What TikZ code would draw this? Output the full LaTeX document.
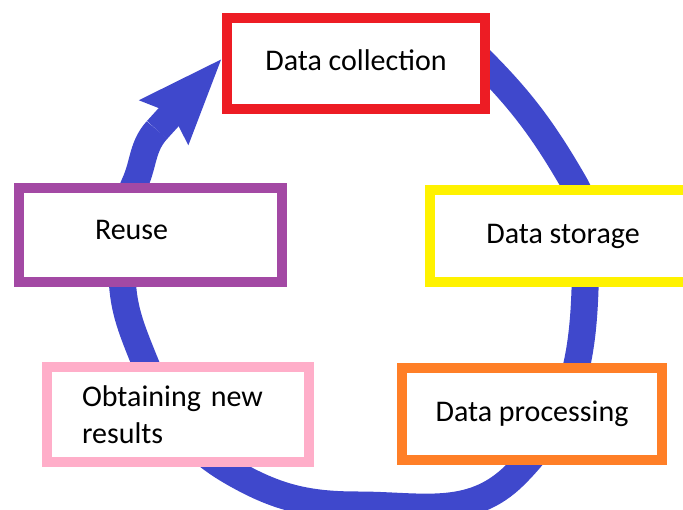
\documentclass[tikz,border=0pt]{standalone}
\usepackage{fontspec}
\setmainfont{Carlito}
\usetikzlibrary{arrows.meta,backgrounds}

\definecolor{ringblue}{HTML}{3F48CC}
\definecolor{stagered}{HTML}{ED1C24}
\definecolor{stageyellow}{HTML}{FFF200}
\definecolor{stageorange}{HTML}{FF7F27}
\definecolor{stagepink}{HTML}{FFAEC9}
\definecolor{stagepurple}{HTML}{A349A4}

\begin{document}
\begin{tikzpicture}[
  x=1pt, y=-1pt,
  stagebox/.style={draw=#1, line width=10pt, fill=white, inner sep=0pt,
    font=\fontsize{30}{36.5}\selectfont, text=black},
  oneline/.style={text height=19.3pt, text depth=5pt},
  cyclering/.style={ringblue, line width=27pt},
  cyclehead/.style={cyclering,
    -{Stealth[length=84pt, width=62pt, inset=10pt]}},
]
\useasboundingbox (0,0) rectangle (683,510);

% the five stages of the cycle
\node[stagebox=stagered, oneline, minimum width=258pt, minimum height=91pt]
  (collect) at (356,63.5) {Data collection};
\node[stagebox=stageyellow, oneline, minimum width=266pt, minimum height=92pt]
  (storage) at (563,236) {Data storage};
\node[stagebox=stageorange, oneline, minimum width=260pt, minimum height=92pt]
  (process) at (532,414) {Data processing};
\node[stagebox=stagepink, minimum width=262pt, minimum height=95pt,
  text width=192pt, align=left]
  (results) at (178,414.5) {Obtaining new\\results};
\node[stagebox=stagepurple, oneline, text depth=11pt, minimum width=263pt,
  minimum height=94pt, text width=111pt, align=left]
  (reuse) at (150.5,235) {Reuse};

% ends of the circular arrow, tucked against the first stage
\coordinate (ring-start) at ([xshift=-22pt, yshift=16pt]collect.east);
\coordinate (ring-end) at ([yshift=5pt]collect.west);
\coordinate (head-base) at (157,130);

% the circular arrow runs clockwise behind the boxes
\begin{scope}[on background layer]
  \draw[cyclering]
    (ring-start) to[out=316, in=120] (574,183)
                 to[out=300, in=88]  (585,290)
                 to[out=268, in=45]  (515,475)
                 to[out=225, in=0]   (358,505)
                 to[out=180, in=330] (232,472)
                 to[out=150, in=292] (144,360)
                 to[out=112, in=270] (122,270)
                 to[out=90,  in=246] (135,183)
                 to[out=66,  in=228] (head-base);
  \draw[cyclehead] (head-base) -- (ring-end);
\end{scope}
\end{tikzpicture}
\end{document}
